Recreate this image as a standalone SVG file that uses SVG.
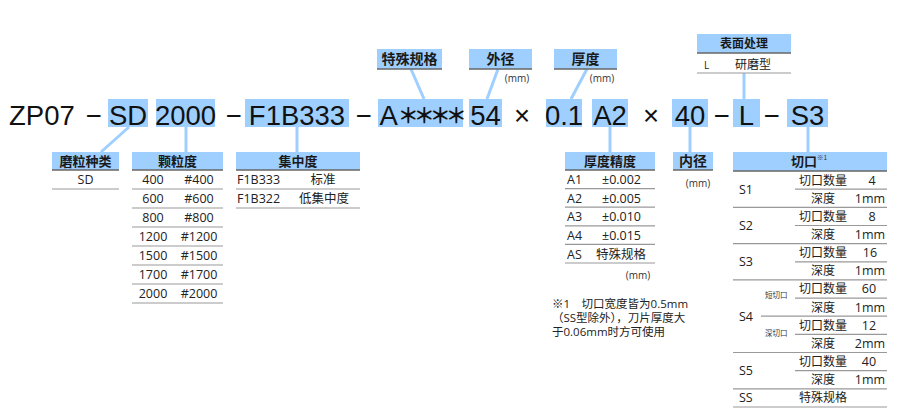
<svg xmlns="http://www.w3.org/2000/svg" width="909" height="415" viewBox="0 0 909 415">
<style>
.bg{fill:#fff}
.hl{fill:#9fcfff}
.code{font-family:"Liberation Sans",Arial,sans-serif;font-size:27.5px;fill:#111}
.star{font-family:"Noto Sans CJK SC",sans-serif;font-size:21px;font-weight:bold;fill:#111}
.hd{font-family:"Noto Sans CJK SC",sans-serif;font-weight:bold;font-size:13px;fill:#1a1a1a;text-anchor:middle}
.hdl{font-family:"Noto Sans CJK SC",sans-serif;font-weight:bold;font-size:14px;fill:#1a1a1a;text-anchor:middle}
.t{font-family:"Open Sans","Noto Sans CJK SC",sans-serif;font-size:12.5px;fill:#222}
.tc{font-family:"Open Sans","Noto Sans CJK SC",sans-serif;font-size:12.5px;fill:#222;text-anchor:middle}
.sm{font-family:"Open Sans","Noto Sans CJK SC",sans-serif;font-size:10px;fill:#333;text-anchor:middle}
.tiny{font-family:"Noto Sans CJK SC",sans-serif;font-size:7.5px;fill:#333}
.note{font-family:"Open Sans","Noto Sans CJK SC",sans-serif;font-size:11.5px;fill:#222}
.ul{stroke:#666;stroke-width:1.6}
.rl{stroke:#999;stroke-width:1.2}
.con{stroke:#9fcfff;stroke-width:3;fill:none}
</style>
<rect class="bg" width="909" height="415"/>

<g id="connectors">
<line class="con" x1="411" y1="69" x2="424" y2="99"/>
<line class="con" x1="498" y1="69" x2="487" y2="99"/>
<line class="con" x1="587" y1="69" x2="571" y2="99"/>
<line class="con" x1="744" y1="73" x2="744" y2="99"/>
<line class="con" x1="129" y1="127" x2="101" y2="152"/>
<line class="con" x1="186" y1="127" x2="186" y2="152"/>
<line class="con" x1="297" y1="127" x2="297" y2="152"/>
<line class="con" x1="610" y1="127" x2="610" y2="152"/>
<line class="con" x1="690" y1="127" x2="690" y2="152"/>
<line class="con" x1="808" y1="127" x2="808" y2="152"/>
</g>

<g id="code">
<rect class="hl" x="108" y="99" width="40" height="28"/>
<rect class="hl" x="156" y="99" width="59" height="28"/>
<rect class="hl" x="245" y="99" width="104" height="28"/>
<rect class="hl" x="378" y="99" width="85" height="28"/>
<rect class="hl" x="469" y="99" width="33" height="28"/>
<rect class="hl" x="546" y="99" width="36" height="28"/>
<rect class="hl" x="592" y="99" width="36" height="28"/>
<rect class="hl" x="672" y="99" width="36" height="28"/>
<rect class="hl" x="733" y="99" width="27" height="28"/>
<rect class="hl" x="787" y="99" width="41" height="28"/>
<text class="code" x="9" y="125">ZP07</text>
<text class="code" text-anchor="middle" x="93.5" y="125">−</text>
<text class="code" text-anchor="middle" x="128" y="125">SD</text>
<text class="code" text-anchor="middle" x="185.5" y="125">2000</text>
<text class="code" text-anchor="middle" x="233.5" y="125">−</text>
<text class="code" text-anchor="middle" x="297" y="125">F1B333</text>
<text class="code" text-anchor="middle" x="363.5" y="125">−</text>
<text class="code" x="379.5" y="125">A<tspan class="star" dy="-2.5" letter-spacing="-5">＊＊＊＊</tspan></text>
<text class="code" text-anchor="middle" x="485.5" y="125">54</text>
<text class="code" text-anchor="middle" x="522" y="125">×</text>
<text class="code" text-anchor="middle" x="564" y="125">0.1</text>
<text class="code" text-anchor="middle" x="610" y="125">A2</text>
<text class="code" text-anchor="middle" x="651" y="125">×</text>
<text class="code" text-anchor="middle" x="690" y="125">40</text>
<text class="code" text-anchor="middle" x="721.5" y="125">−</text>
<text class="code" text-anchor="middle" x="746.5" y="125">L</text>
<text class="code" text-anchor="middle" x="771.5" y="125">−</text>
<text class="code" text-anchor="middle" x="807.5" y="125">S3</text>
</g>

<g id="special">
<rect class="hl" x="377" y="49" width="65" height="20"/>
<line class="ul" x1="377" y1="69" x2="442" y2="69"/>
<text class="hdl" x="409.5" y="64">特殊规格</text>
</g>

<g id="od">
<rect class="hl" x="469" y="49" width="63" height="20"/>
<line class="ul" x1="469" y1="69" x2="532" y2="69"/>
<text class="hdl" x="500.5" y="64">外径</text>
<text class="sm" x="517" y="81.5">(mm)</text>
</g>

<g id="thickness">
<rect class="hl" x="554" y="49" width="63" height="20"/>
<line class="ul" x1="554" y1="69" x2="617" y2="69"/>
<text class="hdl" x="585.5" y="64">厚度</text>
<text class="sm" x="602" y="81.5">(mm)</text>
</g>

<g id="surface">
<rect class="hl" x="697" y="34" width="94" height="19"/>
<line class="ul" x1="697" y1="53" x2="791" y2="53"/>
<text class="hd" x="744" y="48" style="font-size:12px">表面处理</text>
<text class="t" x="704" y="69" style="font-size:10px">L</text>
<text class="tc" x="753" y="69" style="font-size:12px">研磨型</text>
<line class="rl" x1="697" y1="73" x2="791" y2="73"/>
</g>

<g id="abrasive">
<rect class="hl" x="52" y="152" width="67" height="18"/>
<line class="ul" x1="52" y1="170" x2="119" y2="170"/>
<text class="hd" x="85.5" y="166">磨粒种类</text>
<text class="tc" x="85.5" y="184">SD</text>
<line class="rl" x1="52" y1="189" x2="119" y2="189"/>
</g>

<g id="grit">
<rect class="hl" x="132" y="152" width="91" height="18"/>
<line class="ul" x1="132" y1="170" x2="223" y2="170"/>
<text class="hd" x="177.5" y="166">颗粒度</text>
<text class="tc" x="153" y="184">400</text><text class="tc" x="199" y="184">#400</text>
<line class="rl" x1="132" y1="189" x2="223" y2="189"/>
<text class="tc" x="153" y="203">600</text><text class="tc" x="199" y="203">#600</text>
<line class="rl" x1="132" y1="208" x2="223" y2="208"/>
<text class="tc" x="153" y="222">800</text><text class="tc" x="199" y="222">#800</text>
<line class="rl" x1="132" y1="227" x2="223" y2="227"/>
<text class="tc" x="153" y="241">1200</text><text class="tc" x="199" y="241">#1200</text>
<line class="rl" x1="132" y1="246" x2="223" y2="246"/>
<text class="tc" x="153" y="260">1500</text><text class="tc" x="199" y="260">#1500</text>
<line class="rl" x1="132" y1="265" x2="223" y2="265"/>
<text class="tc" x="153" y="279">1700</text><text class="tc" x="199" y="279">#1700</text>
<line class="rl" x1="132" y1="284" x2="223" y2="284"/>
<text class="tc" x="153" y="298">2000</text><text class="tc" x="199" y="298">#2000</text>
<line class="rl" x1="132" y1="303" x2="223" y2="303"/>
</g>

<g id="concentration">
<rect class="hl" x="236" y="152" width="124" height="18"/>
<line class="ul" x1="236" y1="170" x2="360" y2="170"/>
<text class="hd" x="298" y="166">集中度</text>
<text class="t" x="237" y="184">F1B333</text><text class="tc" x="323" y="184">标准</text>
<line class="rl" x1="236" y1="189" x2="360" y2="189"/>
<text class="t" x="237" y="203">F1B322</text><text class="tc" x="324" y="203">低集中度</text>
<line class="rl" x1="236" y1="208" x2="360" y2="208"/>
</g>

<g id="accuracy">
<rect class="hl" x="565" y="152" width="90" height="18"/>
<line class="ul" x1="565" y1="170" x2="655" y2="170"/>
<text class="hd" x="610" y="166">厚度精度</text>
<text class="t" x="567" y="184">A1</text><text class="t" x="602" y="184">±0.002</text>
<line class="rl" x1="565" y1="188.6" x2="655" y2="188.6"/>
<text class="t" x="567" y="202.5">A2</text><text class="t" x="602" y="202.5">±0.005</text>
<line class="rl" x1="565" y1="207.2" x2="655" y2="207.2"/>
<text class="t" x="567" y="221">A3</text><text class="t" x="602" y="221">±0.010</text>
<line class="rl" x1="565" y1="225.8" x2="655" y2="225.8"/>
<text class="t" x="567" y="239.5">A4</text><text class="t" x="602" y="239.5">±0.015</text>
<line class="rl" x1="565" y1="244.4" x2="655" y2="244.4"/>
<text class="t" x="567" y="258.5">AS</text><text class="t" x="596" y="258.5">特殊规格</text>
<line class="rl" x1="565" y1="263" x2="655" y2="263"/>
<text class="sm" x="638" y="279">(mm)</text>
</g>

<g id="id">
<rect class="hl" x="673" y="152" width="40" height="18"/>
<line class="ul" x1="673" y1="170" x2="713" y2="170"/>
<text class="hd" x="693" y="166" style="font-size:14px">内径</text>
<text class="sm" x="698" y="187">(mm)</text>
</g>

<g id="note">
<text class="note" x="552" y="308">※1　切口宽度皆为0.5mm</text>
<text class="note" x="552" y="322">（SS型除外），刀片厚度大</text>
<text class="note" x="552" y="336">于0.06mm时方可使用</text>
</g>

<g id="slot">
<rect class="hl" x="733" y="152" width="154" height="19"/>
<line class="ul" x1="733" y1="171" x2="887" y2="171"/>
<text class="hd" x="804" y="166">切口</text>
<text class="tiny" x="817" y="160" style="font-size:6.5px">※1</text>
<text class="t" x="739" y="193.5">S1</text>
<text class="t" x="739" y="230">S2</text>
<text class="t" x="739" y="266">S3</text>
<text class="t" x="739" y="320.5">S4</text>
<text class="t" x="739" y="375">S5</text>
<text class="t" x="739" y="402">SS</text>
<text class="tc" x="823" y="184.5" style="font-size:12px">切口数量</text><text class="tc" x="872" y="184.5">4</text>
<line class="rl" x1="795" y1="189.2" x2="887" y2="189.2"/>
<text class="tc" x="823" y="202.7" style="font-size:12px">深度</text><text class="tc" x="870" y="202.7">1mm</text>
<line class="rl" x1="733" y1="207.3" x2="887" y2="207.3"/>
<text class="tc" x="823" y="220.8" style="font-size:12px">切口数量</text><text class="tc" x="872" y="220.8">8</text>
<line class="rl" x1="795" y1="225.5" x2="887" y2="225.5"/>
<text class="tc" x="823" y="239" style="font-size:12px">深度</text><text class="tc" x="870" y="239">1mm</text>
<line class="rl" x1="733" y1="243.6" x2="887" y2="243.6"/>
<text class="tc" x="823" y="257.1" style="font-size:12px">切口数量</text><text class="tc" x="870" y="257.1">16</text>
<line class="rl" x1="795" y1="261.8" x2="887" y2="261.8"/>
<text class="tc" x="823" y="275.3" style="font-size:12px">深度</text><text class="tc" x="870" y="275.3">1mm</text>
<line class="rl" x1="733" y1="279.9" x2="887" y2="279.9"/>
<text class="tiny" x="765" y="298">短切口</text>
<text class="tc" x="823" y="293.4" style="font-size:12px">切口数量</text><text class="tc" x="869" y="293.4">60</text>
<line class="rl" x1="795" y1="298.1" x2="887" y2="298.1"/>
<text class="tc" x="823" y="311.6" style="font-size:12px">深度</text><text class="tc" x="870" y="311.6">1mm</text>
<line class="rl" x1="761" y1="316.2" x2="887" y2="316.2"/>
<text class="tiny" x="765" y="336">深切口</text>
<text class="tc" x="823" y="329.7" style="font-size:12px">切口数量</text><text class="tc" x="869" y="329.7">12</text>
<line class="rl" x1="795" y1="334.4" x2="887" y2="334.4"/>
<text class="tc" x="823" y="347.9" style="font-size:12px">深度</text><text class="tc" x="870" y="347.9">2mm</text>
<line class="rl" x1="733" y1="352.5" x2="887" y2="352.5"/>
<text class="tc" x="823" y="366" style="font-size:12px">切口数量</text><text class="tc" x="869" y="366">40</text>
<line class="rl" x1="795" y1="370.7" x2="887" y2="370.7"/>
<text class="tc" x="823" y="384.2" style="font-size:12px">深度</text><text class="tc" x="870" y="384.2">1mm</text>
<line class="rl" x1="733" y1="388.8" x2="887" y2="388.8"/>
<text class="tc" x="823" y="402.4" style="font-size:12px">特殊规格</text>
<line class="rl" x1="733" y1="407" x2="887" y2="407"/>
</g>
</svg>
